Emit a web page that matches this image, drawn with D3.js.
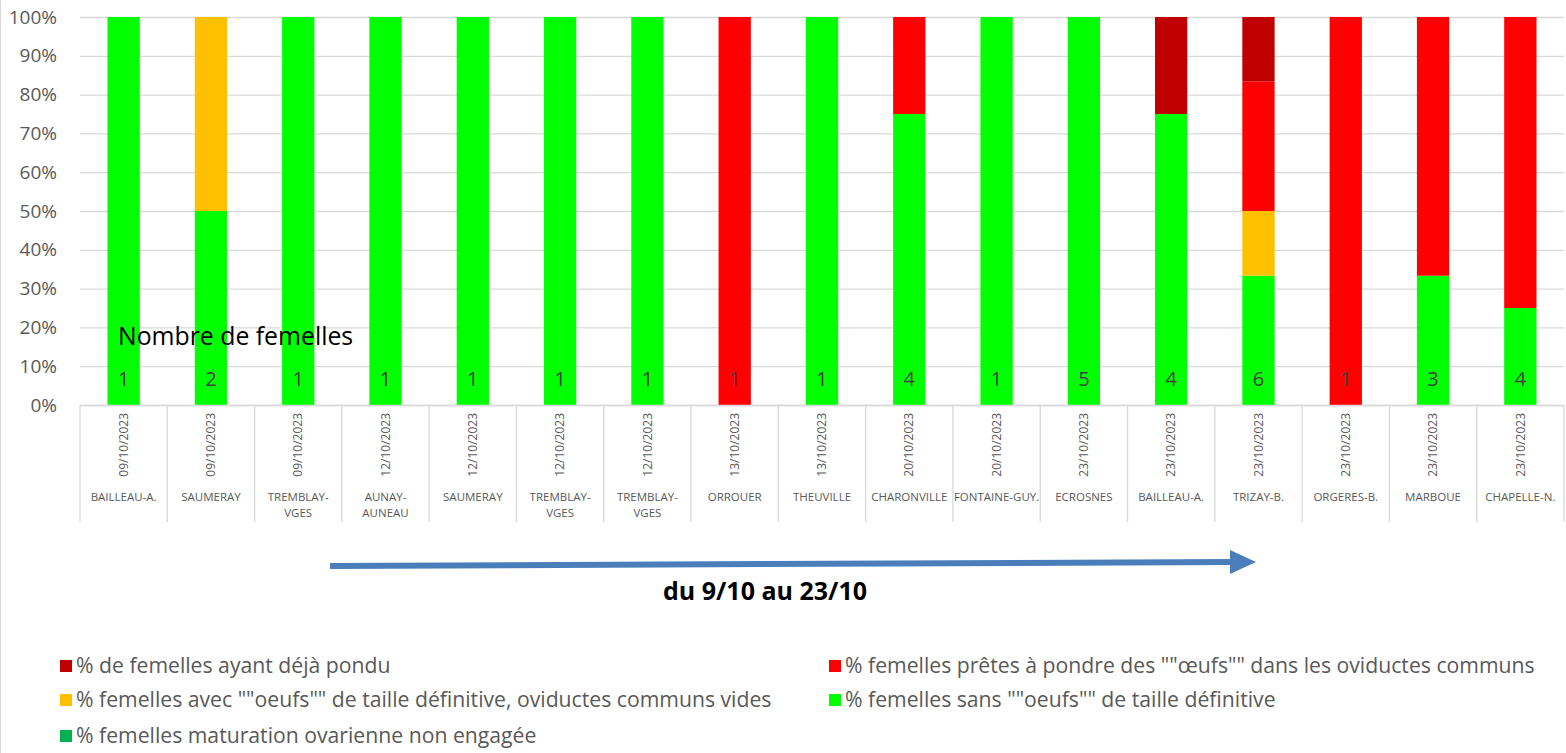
<!DOCTYPE html>
<html>
<head>
<meta charset="utf-8">
<script src="https://cdn.jsdelivr.net/npm/d3@7"></script>
<style>
  body { margin: 0; background: #fff; }
  svg { display: block; font-family: "Open Sans", sans-serif; }
</style>
</head>
<body>
<svg id="chart" width="1566" height="753"></svg>
<script>
// categories
var dates = ["09/10/2023","09/10/2023","09/10/2023","12/10/2023","12/10/2023","12/10/2023","12/10/2023",
             "13/10/2023","13/10/2023","20/10/2023","20/10/2023","23/10/2023","23/10/2023","23/10/2023",
             "23/10/2023","23/10/2023","23/10/2023"];
var sites = ["BAILLEAU-A.","SAUMERAY","TREMBLAY-VGES","AUNAY-AUNEAU","SAUMERAY","TREMBLAY-VGES","TREMBLAY-VGES",
             "ORROUER","THEUVILLE","CHARONVILLE","FONTAINE-GUY.","ECROSNES","BAILLEAU-A.","TRIZAY-B.",
             "ORGERES-B.","MARBOUE","CHAPELLE-N."];
var nbFemelles = [1,2,1,1,1,1,1,1,1,4,1,5,4,6,1,3,4];

// series (% of females)
var pctNonEngagee = [0,0,0,0,0,0,0,0,0,0,0,0,0,0,0,0,0];
var pctSansOeufs  = [100,50,100,100,100,100,100,0,100,75,100,100,75,33.33,0,33.33,25];
var pctAvecOeufs  = [0,50,0,0,0,0,0,0,0,0,0,0,0,16.67,0,0,0];
var pctPretes     = [0,0,0,0,0,0,0,100,0,25,0,0,0,33.33,100,66.67,75];
var pctDejaPondu  = [0,0,0,0,0,0,0,0,0,0,0,0,25,16.67,0,0,0];

var yTicks = [0,10,20,30,40,50,60,70,80,90,100];

var series = [
  {key:"nonEngagee", label:"% femelles maturation ovarienne non engagée", color:"#00b050", values:pctNonEngagee},
  {key:"sansOeufs", label:'% femelles sans ""oeufs"" de taille définitive', color:"#00ff00", values:pctSansOeufs},
  {key:"avecOeufs", label:'% femelles avec ""oeufs"" de taille définitive, oviductes communs vides', color:"#ffc000", values:pctAvecOeufs},
  {key:"pretes", label:'% femelles prêtes à pondre des ""œufs"" dans les oviductes communs', color:"#ff0000", values:pctPretes},
  {key:"dejaPondu", label:"% de femelles ayant déjà pondu", color:"#c00000", values:pctDejaPondu}
];
var legendOrder = ["dejaPondu","pretes","avecOeufs","sansOeufs","nonEngagee"];

var svg = d3.select("#chart");
var plotLeft = 80, plotRight = 1564, plotTop = 17, plotBottom = 405;

var rows = dates.map(function(d,i){
  var r = {i:i};
  series.forEach(function(s){ r[s.key] = s.values[i]; });
  return r;
});

var x = d3.scaleBand().domain(d3.range(dates.length)).range([plotLeft,plotRight])
          .paddingInner(0.63).paddingOuter(0.315);
var y = d3.scaleLinear().domain([0,100]).range([plotBottom,plotTop]);
var step = x.step();

// chart border
svg.append("line").attr("x1",0.5).attr("x2",0.5).attr("y1",0).attr("y2",753)
   .attr("stroke","#d9d9d9");

// gridlines
svg.append("g").selectAll("line").data(yTicks).enter().append("line")
   .attr("x1",plotLeft).attr("x2",plotRight)
   .attr("y1",function(d){return y(d)+0.5;}).attr("y2",function(d){return y(d)+0.5;})
   .attr("stroke","#d9d9d9").attr("stroke-width",1.3);

// y tick labels
svg.append("g").selectAll("text").data(yTicks).enter().append("text")
   .attr("x",57).attr("y",function(d){return y(d);}).attr("dy","0.35em")
   .attr("text-anchor","end").attr("fill","#595959").attr("font-size",19)
   .text(function(d){return d+"%";});

// stacked bars
var stack = d3.stack().keys(series.map(function(s){return s.key;}));
var stacked = stack(rows);
svg.append("g").selectAll("g").data(stacked).enter().append("g")
   .attr("fill",function(d,i){return series[i].color;})
   .selectAll("rect").data(function(d){return d;}).enter().append("rect")
   .attr("x",function(d){return x(d.data.i);})
   .attr("width",x.bandwidth())
   .attr("y",function(d){return y(d[1]);})
   .attr("height",function(d){return y(d[0])-y(d[1]);});

// category axis separators
var sep = svg.append("g").attr("stroke","#d9d9d9").attr("stroke-width",1.3);
d3.range(dates.length+1).forEach(function(i){
  var xx = plotLeft + i*step;
  sep.append("line").attr("x1",xx).attr("x2",xx).attr("y1",plotBottom).attr("y2",522);
});
sep.append("line").attr("x1",plotLeft).attr("x2",plotRight).attr("y1",plotBottom+0.5).attr("y2",plotBottom+0.5);

// date labels (rotated)
svg.append("g").selectAll("text").data(dates).enter().append("text")
   .attr("transform",function(d,i){return "translate("+(x(i)+x.bandwidth()/2)+",413) rotate(-90)";})
   .attr("dy","0.35em").attr("text-anchor","end")
   .attr("fill","#595959").attr("font-size",12)
   .text(function(d){return d;});

// site labels (full words after a hyphen go on a second line)
var siteG = svg.append("g").attr("fill","#595959").attr("font-size",11.5).attr("text-anchor","middle");
sites.forEach(function(s,i){
  var cx = x(i)+x.bandwidth()/2;
  var k = s.indexOf("-")+1;
  var lines = (k > 0 && s.slice(-1) !== ".") ? [s.slice(0,k), s.slice(k)] : [s];
  lines.forEach(function(l,j){
    siteG.append("text").attr("x",cx).attr("y",497+j*16).attr("dy","0.35em").text(l);
  });
});

// number of females labels
svg.append("g").selectAll("text").data(nbFemelles).enter().append("text")
   .attr("x",function(d,i){return x(i)+x.bandwidth()/2;})
   .attr("y",y(6.8)).attr("dy","0.35em").attr("text-anchor","middle")
   .attr("fill","#404040").attr("font-size",20)
   .text(function(d){return d;});

svg.append("text").attr("x",118).attr("y",336).attr("dy","0.35em")
   .attr("fill","#000").attr("font-size",24.8).text("Nombre de femelles");

// arrow
var ax0 = 330, ay0 = 566, ax1 = 1232, ay1 = 562;
svg.append("line").attr("x1",ax0).attr("y1",ay0).attr("x2",ax1).attr("y2",ay1)
   .attr("stroke","#4a7ebb").attr("stroke-width",6);
svg.append("path")
   .attr("d","M"+(ax1-2)+","+(ay1-12)+" L1256,"+ay1+" L"+(ax1-2)+","+(ay1+12)+" Z")
   .attr("fill","#4a7ebb");
svg.append("text").attr("x",765).attr("y",591).attr("dy","0.35em").attr("text-anchor","middle")
   .attr("font-weight","bold").attr("font-size",25).attr("fill","#000").text("du 9/10 au 23/10");

// legend
var legPos = [[60,666],[829,666],[60,700],[829,700],[60,736]];
var legG = svg.append("g");
legendOrder.forEach(function(k,j){
  var s = series.filter(function(d){return d.key===k;})[0];
  var p = legPos[j];
  legG.append("rect").attr("x",p[0]).attr("y",p[1]-6).attr("width",12).attr("height",12).attr("fill",s.color);
  legG.append("text").attr("x",p[0]+16).attr("y",p[1]).attr("dy","0.35em")
     .attr("fill","#595959").attr("font-size",21.2).text(s.label);
});
</script>
</body>
</html>
